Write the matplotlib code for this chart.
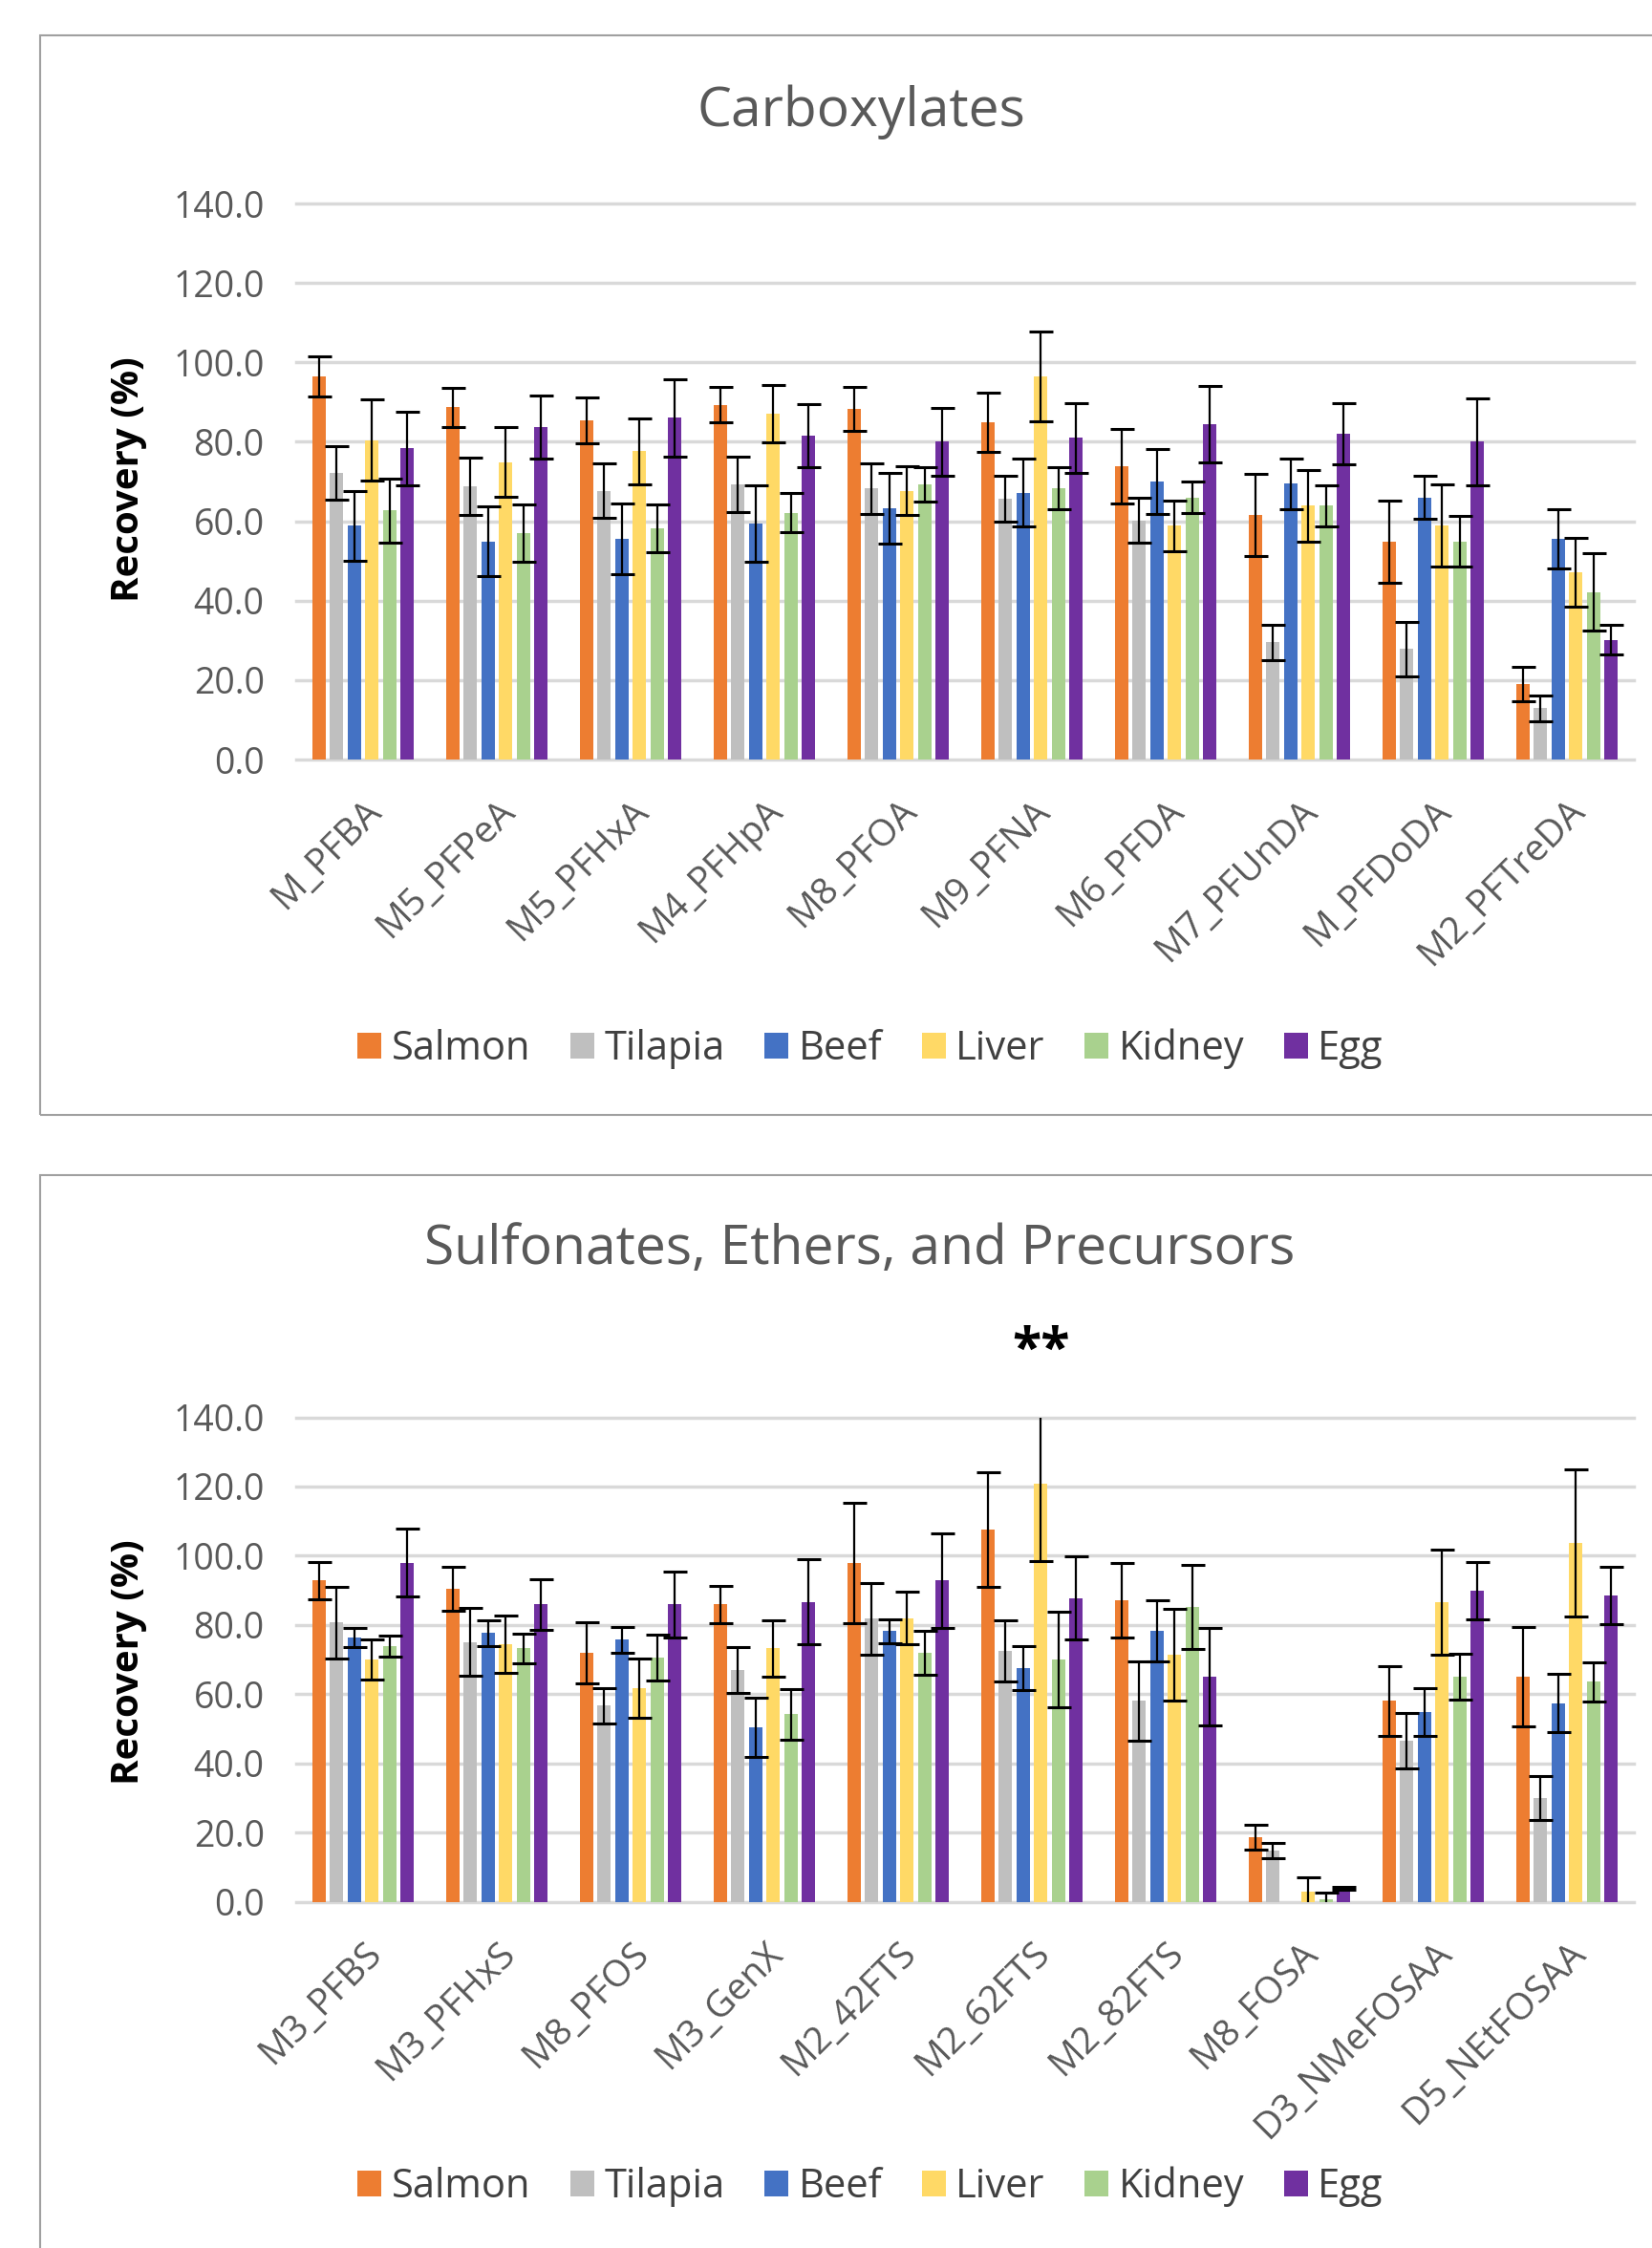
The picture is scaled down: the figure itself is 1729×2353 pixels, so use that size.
import numpy as np
import matplotlib
matplotlib.use('Agg')
import matplotlib.pyplot as plt
from matplotlib.ticker import FormatStrFormatter
from matplotlib.patches import Rectangle, Patch

plt.rcParams['font.family'] = ['Open Sans', 'DejaVu Sans']

# species / colours
species = ['Salmon', 'Tilapia', 'Beef', 'Liver', 'Kidney', 'Egg']
colors = ['#ED7D31', '#BFBFBF', '#4472C4', '#FFD966', '#A9D18E', '#7030A0']

# carboxylates
carb_labels = ['M_PFBA', 'M5_PFPeA', 'M5_PFHxA', 'M4_PFHpA', 'M8_PFOA',
               'M9_PFNA', 'M6_PFDA', 'M7_PFUnDA', 'M_PFDoDA', 'M2_PFTreDA']
salmon_c = [96.5, 88.7, 85.4, 89.3, 88.2, 84.9, 73.8, 61.6, 54.9, 19.0]
salmon_c_err = [5.0, 4.9, 5.8, 4.4, 5.5, 7.5, 9.4, 10.3, 10.3, 4.4]
tilapia_c = [72.2, 68.8, 67.7, 69.3, 68.2, 65.6, 60.2, 29.5, 27.8, 12.9]
tilapia_c_err = [6.7, 7.1, 6.9, 6.9, 6.3, 5.8, 5.7, 4.5, 6.9, 3.3]
beef_c = [58.9, 54.9, 55.5, 59.4, 63.3, 67.2, 70.0, 69.4, 66.0, 55.5]
beef_c_err = [8.8, 8.8, 8.9, 9.7, 8.9, 8.5, 8.2, 6.3, 5.5, 7.5]
liver_c = [80.4, 74.9, 77.6, 87.0, 67.7, 96.5, 58.9, 63.9, 58.9, 47.2]
liver_c_err = [10.2, 8.8, 8.3, 7.2, 6.1, 11.3, 6.4, 9.1, 10.3, 8.6]
kidney_c = [62.7, 57.1, 58.2, 62.1, 69.3, 68.3, 66.0, 63.9, 54.9, 42.2]
kidney_c_err = [8.0, 7.2, 6.1, 4.9, 4.4, 5.2, 3.9, 5.2, 6.4, 9.8]
egg_c = [78.3, 83.7, 86.0, 81.5, 80.0, 81.0, 84.4, 82.1, 80.0, 30.1]
egg_c_err = [9.2, 8.0, 9.7, 8.0, 8.6, 8.8, 9.7, 7.7, 11.0, 3.7]

# sulfonates, ethers, precursors
sulf_labels = ['M3_PFBS', 'M3_PFHxS', 'M8_PFOS', 'M3_GenX', 'M2_42FTS',
               'M2_62FTS', 'M2_82FTS', 'M8_FOSA', 'D3_NMeFOSAA', 'D5_NEtFOSAA']
salmon_s = [92.8, 90.4, 71.9, 85.9, 97.9, 107.5, 87.2, 18.6, 58.0, 65.0]
salmon_s_err = [5.3, 6.3, 8.9, 5.4, 17.5, 16.5, 10.8, 3.5, 10.2, 14.3]
tilapia_s = [80.7, 75.1, 56.7, 67.0, 81.8, 72.5, 58.0, 14.8, 46.5, 30.0]
tilapia_s_err = [10.4, 9.9, 5.1, 6.6, 10.4, 8.8, 11.4, 2.1, 7.9, 6.3]
beef_s = [76.3, 77.6, 75.7, 50.4, 78.2, 67.5, 78.3, np.nan, 54.8, 57.4]
beef_s_err = [2.8, 3.8, 3.8, 8.6, 3.5, 6.3, 8.9, np.nan, 7.0, 8.5]
liver_s = [70.0, 74.4, 61.8, 73.2, 81.9, 120.8, 71.3, 2.8, 86.5, 103.7]
liver_s_err = [5.7, 8.3, 8.6, 8.2, 7.6, 22.4, 13.3, 4.2, 15.2, 21.2]
kidney_s = [73.8, 73.2, 70.6, 54.2, 71.9, 70.0, 85.2, 0.8, 65.0, 63.6]
kidney_s_err = [3.1, 4.2, 6.7, 7.3, 6.3, 13.7, 12.1, 1.8, 6.6, 5.7]
egg_s = [97.9, 85.9, 85.9, 86.6, 92.8, 87.8, 65.0, 3.8, 89.8, 88.5]
egg_s_err = [9.8, 7.3, 9.5, 12.3, 13.6, 12.0, 14.0, 0.4, 8.3, 8.2]

W, H = 1729, 2353
fig = plt.figure(figsize=(W/100, H/100), dpi=100)

# chart borders
fig.patches.append(Rectangle((42/W, 1-1167/H), 1.0, (1167-37)/H, transform=fig.transFigure,
                             fill=False, edgecolor='#A0A0A0', lw=1.5))
fig.patches.append(Rectangle((42/W, -0.1), 1.0, 0.1+(H-1230)/H, transform=fig.transFigure,
                             fill=False, edgecolor='#A0A0A0', lw=1.5))


def drawPanel(ax, labels, vals, errs):
    x = np.arange(len(labels))
    for i in range(6):
        ax.bar(x+(i-2.5)*0.1325, vals[i], 0.1, yerr=errs[i], color=colors[i],
               error_kw=dict(ecolor='black', elinewidth=1.6, capsize=9, capthick=2.2), zorder=3)
    ax.set_xlim(-0.5, 9.5)
    ax.set_ylim(0, 140)
    ax.set_yticks(np.arange(0, 141, 20))
    ax.yaxis.set_major_formatter(FormatStrFormatter('%.1f'))
    ax.grid(axis='y', color='#D9D9D9', lw=2.5)
    for gl in ax.get_ygridlines():
        gl.set_clip_on(False)
    ax.set_axisbelow(True)
    for s in ax.spines.values():
        s.set_visible(False)
    ax.tick_params(axis='y', length=0, labelsize=27, colors='#595959', pad=24)
    ax.tick_params(axis='x', length=0, labelsize=28, colors='#595959', pad=25)
    ax.set_xticks(x)
    ax.set_xticklabels(labels, rotation=45, ha='right', rotation_mode='anchor')


ax1 = fig.add_axes([310/W, 1-795/H, 1400/W, 582/H])
drawPanel(ax1, carb_labels,
          [salmon_c, tilapia_c, beef_c, liver_c, kidney_c, egg_c],
          [salmon_c_err, tilapia_c_err, beef_c_err, liver_c_err, kidney_c_err, egg_c_err])

ax2 = fig.add_axes([310/W, 1-1990.5/H, 1400/W, 507/H])
drawPanel(ax2, sulf_labels,
          [salmon_s, tilapia_s, beef_s, liver_s, kidney_s, egg_s],
          [salmon_s_err, tilapia_s_err, beef_s_err, liver_s_err, kidney_s_err, egg_s_err])

# significance marker above M2_62FTS liver
ax2.text(5+0.5*0.1325, 159, '**', fontsize=40, color='black', ha='center', va='center',
         fontweight='bold', clip_on=False)

# titles and y labels
fig.text(901/W, 1-117/H, 'Carboxylates', fontsize=41, color='#595959', ha='center', va='center')
fig.text(900/W, 1-1308/H, 'Sulfonates, Ethers, and Precursors', fontsize=41, color='#595959',
         ha='center', va='center')
fig.text(135/W, 1-502/H, 'Recovery (%)', fontsize=29, fontweight='bold', rotation=90,
         ha='center', va='center')
fig.text(135/W, 1-1740/H, 'Recovery (%)', fontsize=29, fontweight='bold', rotation=90,
         ha='center', va='center')

handles = [Patch(facecolor=c) for c in colors]
for yy in [1098, 2289]:
    fig.legend(handles, species, loc='center', bbox_to_anchor=(911/W, 1-yy/H), ncol=6,
               frameon=False, fontsize=30, handlelength=0.6, handleheight=0.6,
               handletextpad=0.25, columnspacing=1.0, labelcolor='#404040')

fig.savefig('out.png', dpi=100)
